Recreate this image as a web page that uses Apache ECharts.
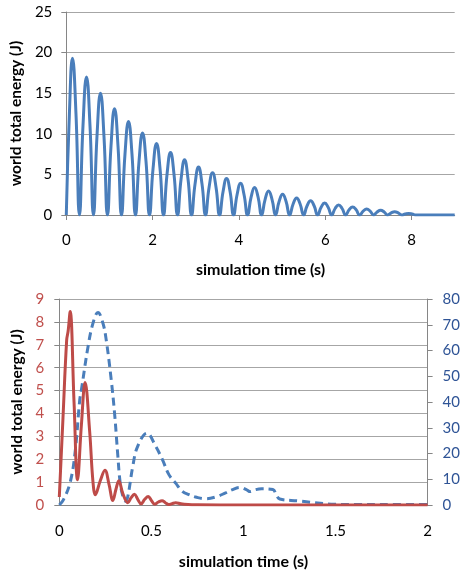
<!DOCTYPE html>
<html>
<head>
<meta charset="utf-8">
<script src="https://cdn.jsdelivr.net/npm/echarts@6/dist/echarts.min.js"></script>
<style>
html,body{margin:0;padding:0;background:#fff;}
#c{width:463px;height:571px;}
</style>
</head>
<body>
<div id="c"></div>
<script>
// Top chart: world total energy vs simulation time
var topTime = [0, 0.072, 0.143, 0.224, 0.305, 0.387, 0.468, 0.549, 0.630, 0.711, 0.792, 0.873, 0.954,
  1.036, 1.117, 1.198, 1.279, 1.360, 1.441, 1.522, 1.603, 1.685, 1.766, 1.847, 1.928,
  2.010, 2.091, 2.172, 2.253, 2.334, 2.415, 2.496, 2.577, 2.659, 2.740, 2.821, 2.902,
  2.983, 3.064, 3.145, 3.226, 3.308, 3.389, 3.470, 3.551, 3.633, 3.714, 3.795, 3.876,
  3.957, 4.038, 4.119, 4.200, 4.282, 4.363, 4.444, 4.525, 4.606, 4.687, 4.768, 4.849,
  4.931, 5.012, 5.093, 5.174, 5.256, 5.337, 5.418, 5.499, 5.580, 5.661, 5.742, 5.823,
  5.905, 5.986, 6.067, 6.148, 6.229, 6.310, 6.391, 6.472, 6.554, 6.635, 6.716, 6.797,
  6.879, 6.960, 7.041, 7.122, 7.203, 7.284, 7.365, 7.446, 7.528, 7.609, 7.690, 7.771,
  7.852, 7.933, 8.014, 8.095, 8.5, 9.0];
var topEnergy = [0, 12.5, 19.3, 12.5, 0, 11.0, 17.0, 11.0, 0, 9.7, 15.0, 9.7, 0,
  8.5, 13.1, 8.5, 0, 7.5, 11.5, 7.5, 0, 6.6, 10.1, 6.6, 0,
  5.7, 8.8, 5.7, 0, 5.0, 7.7, 5.0, 0, 4.4, 6.8, 4.4, 0,
  3.8, 5.9, 3.8, 0, 3.4, 5.2, 3.4, 0, 2.9, 4.5, 2.9, 0,
  2.5, 3.9, 2.5, 0, 2.2, 3.4, 2.2, 0, 1.9, 2.95, 1.9, 0,
  1.65, 2.55, 1.65, 0, 1.36, 2.1, 1.36, 0, 1.14, 1.76, 1.14, 0,
  0.96, 1.48, 0.96, 0, 0.8, 1.23, 0.8, 0, 0.64, 0.98, 0.64, 0,
  0.48, 0.74, 0.48, 0, 0.38, 0.58, 0.38, 0, 0.27, 0.41, 0.27, 0,
  0.13, 0.2, 0.13, 0, 0, 0];

// Bottom chart: red solid (left axis)
var redTime = [0, 0.02, 0.04, 0.048, 0.059, 0.08, 0.099, 0.12, 0.14, 0.165, 0.183, 0.196,
  0.222, 0.248, 0.27, 0.291, 0.308, 0.323, 0.345, 0.372, 0.39, 0.408, 0.426, 0.444,
  0.464, 0.483, 0.5, 0.519, 0.538, 0.558, 0.576, 0.594, 0.612, 0.632, 0.66, 0.7, 0.75,
  1.0, 1.5, 2.0];
var redEnergy = [0.35, 3.8, 7.2, 7.6, 8.45, 4.5, 1.1, 3.5, 5.35, 3.2, 1.0, 0.45,
  1.05, 1.52, 0.9, 0.2, 0.7, 1.06, 0.5, 0.1, 0.32, 0.47, 0.25, 0.05,
  0.25, 0.37, 0.2, 0.03, 0.13, 0.19, 0.1, 0.02, 0.06, 0.1, 0.05, 0.02, 0.01,
  0, 0, 0];

// Bottom chart: blue dashed (right axis)
var blueTime = [0, 0.022, 0.058, 0.085, 0.111, 0.12, 0.156, 0.183, 0.21, 0.237, 0.255, 0.282,
  0.30, 0.318, 0.33, 0.345, 0.36, 0.372, 0.399, 0.425, 0.476, 0.524, 0.56, 0.596, 0.632,
  0.668, 0.704, 0.74, 0.794, 0.848, 0.9, 0.937, 0.982, 1.018, 1.036, 1.063, 1.099, 1.16,
  1.18, 1.197, 1.296, 1.386, 1.494, 1.6, 1.8, 2.0];
var blueEnergy = [0, 2, 8.5, 20, 40.8, 44.7, 61.5, 70.6, 74.8, 70.6, 64, 48.6,
  35.7, 19, 9, 3.5, 1.5, 3.3, 15, 22.7, 27.9, 22.7, 17.6, 11.7, 8.5,
  5.3, 4.0, 3.1, 2.4, 3.1, 4.6, 5.9, 6.8, 5.9, 5.2, 5.9, 6.3, 6.0,
  3.6, 2.3, 1.6, 0.9, 0.3, 0.2, 0.2, 0.2];

var topXTicks = [0, 2, 4, 6, 8];
var bottomXTicks = [0, 0.5, 1, 1.5, 2];

function pairs(xs, ys) { return xs.map(function (x, i) { return [x, ys[i]]; }); }

var FONT = 'Lato';
var AX = '#868686';
var GRID = '#a6a6a6';

var chart = echarts.init(document.getElementById('c'), null, {renderer: 'canvas'});
chart.setOption({
  backgroundColor: '#fff',
  animation: false,
  textStyle: {fontFamily: FONT},
  grid: [
    {left: 64.5, top: 12, width: 390.2, height: 203, containLabel: false},
    {left: 59.3, top: 299, width: 371.4, height: 206.3, containLabel: false}
  ],
  xAxis: [
    {
      gridIndex: 0, type: 'value', min: 0, max: 9, interval: 2,
      name: 'simulation time (s)', nameLocation: 'middle', nameGap: 47,
      nameTextStyle: {fontFamily: FONT, fontWeight: 'bold', fontSize: 16, color: '#000'},
      axisLine: {show: true, lineStyle: {color: AX, width: 1}},
      axisTick: {show: true, length: 5, lineStyle: {color: AX}, customValues: topXTicks},
      axisLabel: {color: '#000', fontSize: 15, fontFamily: FONT, margin: 18, customValues: topXTicks},
      splitLine: {show: false}
    },
    {
      gridIndex: 1, type: 'value', min: 0, max: 2, interval: 0.5,
      name: 'simulation time (s)', nameLocation: 'middle', nameGap: 49,
      nameTextStyle: {fontFamily: FONT, fontWeight: 'bold', fontSize: 16, color: '#000'},
      axisLine: {show: true, lineStyle: {color: AX, width: 1}},
      axisTick: {show: false},
      axisLabel: {color: '#000', fontSize: 15, fontFamily: FONT, margin: 19, customValues: bottomXTicks},
      splitLine: {show: false}
    }
  ],
  yAxis: [
    {
      gridIndex: 0, type: 'value', min: 0, max: 25, interval: 5,
      name: 'world total energy (J)', nameLocation: 'middle', nameGap: 40, nameRotate: 90,
      nameTextStyle: {fontFamily: FONT, fontWeight: 'bold', fontSize: 15.5, color: '#000'},
      axisLine: {show: true, lineStyle: {color: AX, width: 1}},
      axisTick: {show: true, length: 5, lineStyle: {color: AX}},
      axisLabel: {color: '#000', fontSize: 15, fontFamily: FONT, margin: 14},
      splitLine: {show: true, lineStyle: {color: GRID, width: 1}}
    },
    {
      gridIndex: 1, type: 'value', min: 0, max: 9, interval: 1, position: 'left',
      name: 'world total energy (J)', nameLocation: 'middle', nameGap: 31, nameRotate: 90,
      nameTextStyle: {fontFamily: FONT, fontWeight: 'bold', fontSize: 15.5, color: '#000'},
      axisLine: {show: true, lineStyle: {color: AX, width: 1}},
      axisTick: {show: true, length: 5, lineStyle: {color: AX}},
      axisLabel: {color: '#C0504D', fontSize: 15, fontFamily: FONT, margin: 15},
      splitLine: {show: true, lineStyle: {color: GRID, width: 1}}
    },
    {
      gridIndex: 1, type: 'value', min: 0, max: 80, interval: 10, position: 'right',
      axisLine: {show: true, lineStyle: {color: AX, width: 1}},
      axisTick: {show: true, length: 5, lineStyle: {color: AX}},
      axisLabel: {color: '#2F5496', fontSize: 15, fontFamily: FONT, margin: 15},
      splitLine: {show: false}
    }
  ],
  series: [
    {
      type: 'line', xAxisIndex: 0, yAxisIndex: 0, data: pairs(topTime, topEnergy),
      smooth: 0.5, symbol: 'none', lineStyle: {color: '#4A7EBB', width: 3}, z: 3
    },
    {
      type: 'line', xAxisIndex: 1, yAxisIndex: 2, data: pairs(blueTime, blueEnergy),
      smooth: 0.4, symbol: 'none', lineStyle: {color: '#4A7EBB', width: 3, type: [8, 5]}, z: 3
    },
    {
      type: 'line', xAxisIndex: 1, yAxisIndex: 1, data: pairs(redTime, redEnergy),
      smooth: 0.4, symbol: 'none', lineStyle: {color: '#BE4B48', width: 3}, z: 4
    }
  ]
});
</script>
</body>
</html>
